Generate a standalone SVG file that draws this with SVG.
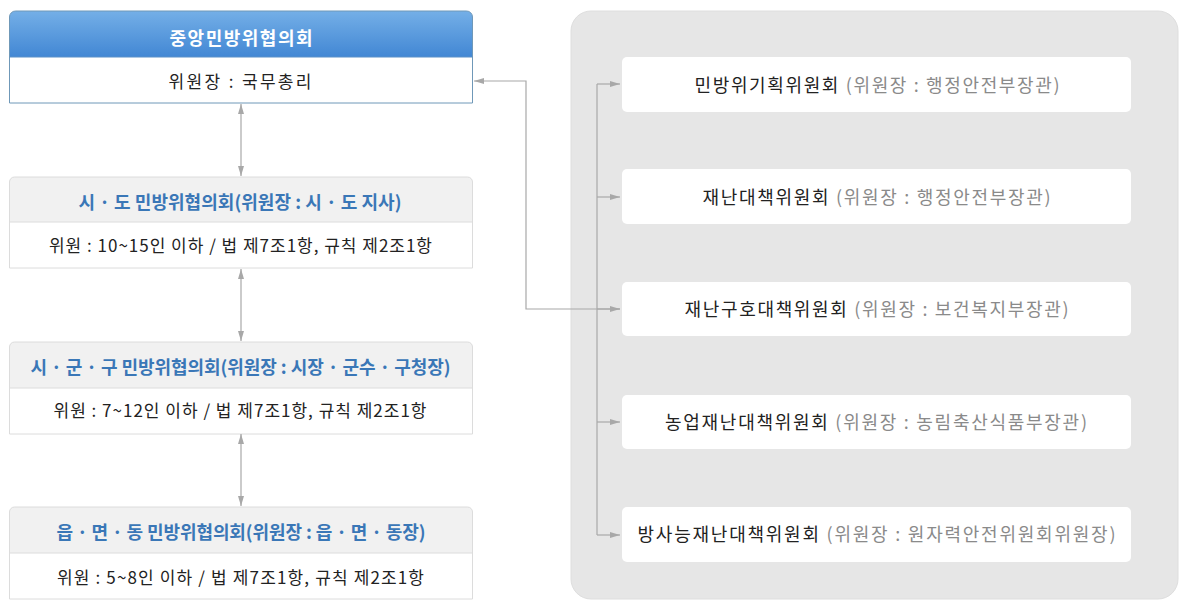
<svg xmlns="http://www.w3.org/2000/svg" width="1187" height="605" viewBox="0 0 1187 605">
<defs>
<linearGradient id="hdr" x1="0" y1="0" x2="0" y2="1">
<stop offset="0" stop-color="#74afe7"/>
<stop offset="1" stop-color="#4287d4"/>
</linearGradient>
<marker id="ah" viewBox="0 0 10 6" refX="10" refY="3" markerWidth="10" markerHeight="6" markerUnits="userSpaceOnUse" orient="auto-start-reverse">
<path d="M0,0 L10,3 L0,6 Z" fill="#a8a8a8"/>
</marker>
<style>
text{font-family:"Malgun Gothic","Noto Sans CJK KR",sans-serif;text-anchor:middle}
.t{font-size:18px;font-weight:bold;fill:#3a77b7}
.b{font-size:17px;fill:#222}
.r{font-size:18px;fill:#222}
.g{fill:#8a8a8a}
.hd{fill:#f1f1f1}
.wb{fill:#fff}
.ln{fill:none;stroke:#a8a8a8;stroke-width:1.2}
</style>
</defs>
<rect x="571" y="11" width="607" height="588" rx="20" fill="#e6e6e6" stroke="#dedede"/>

<g id="n-central">
<path d="M9.5,57 V17 a6,6 0 0 1 6,-6 H466.5 a6,6 0 0 1 6,6 V57 Z" fill="url(#hdr)"/>
<rect x="9.5" y="57" width="463" height="46" fill="#fff"/>
<path d="M9.5,57 V17 a6,6 0 0 1 6,-6 H466.5 a6,6 0 0 1 6,6 V103 H9.5 Z" fill="none" stroke="#6f98b8" stroke-width="1"/>
<line x1="9.5" y1="57" x2="472.5" y2="57" stroke="#5a90c8"/>
<text x="241" y="44.5" textLength="143" lengthAdjust="spacing" style="font-size:18px;font-weight:bold;fill:#fff">중앙민방위협의회</text>
<text x="240" y="88" class="b" textLength="143" lengthAdjust="spacing">위원장 : 국무총리</text>
</g>

<g id="n-sido">
<path d="M9.5,222 V182 a5,5 0 0 1 5,-5 H467.5 a5,5 0 0 1 5,5 V222 Z" class="hd"/>
<path d="M9.5,222 V182 a5,5 0 0 1 5,-5 H467.5 a5,5 0 0 1 5,5 V268 H9.5 Z" fill="none" stroke="#dcdcdc"/>
<line x1="9.5" y1="222" x2="472.5" y2="222" stroke="#dcdcdc"/>
<text x="240" y="208.5" class="t" textLength="323" lengthAdjust="spacing">시 · 도 민방위협의회(위원장 : 시 · 도 지사)</text>
<text x="240.5" y="252" class="b" textLength="383" lengthAdjust="spacing">위원 : 10~15인 이하 / 법 제7조1항, 규칙 제2조1항</text>
</g>

<g id="n-sigungu">
<path d="M9.5,388 V347 a5,5 0 0 1 5,-5 H467.5 a5,5 0 0 1 5,5 V388 Z" class="hd"/>
<path d="M9.5,388 V347 a5,5 0 0 1 5,-5 H467.5 a5,5 0 0 1 5,5 V434 H9.5 Z" fill="none" stroke="#dcdcdc"/>
<line x1="9.5" y1="388" x2="472.5" y2="388" stroke="#dcdcdc"/>
<text x="240.5" y="373.5" class="t" textLength="420" lengthAdjust="spacing">시 · 군 · 구 민방위협의회(위원장 : 시장 · 군수 · 구청장)</text>
<text x="240" y="417" class="b" textLength="373" lengthAdjust="spacing">위원 : 7~12인 이하 / 법 제7조1항, 규칙 제2조1항</text>
</g>

<g id="n-eupmyeon">
<path d="M9.5,553 V512 a5,5 0 0 1 5,-5 H467.5 a5,5 0 0 1 5,5 V553 Z" class="hd"/>
<path d="M9.5,553 V512 a5,5 0 0 1 5,-5 H467.5 a5,5 0 0 1 5,5 V599 H9.5 Z" fill="none" stroke="#dcdcdc"/>
<line x1="9.5" y1="553" x2="472.5" y2="553" stroke="#dcdcdc"/>
<text x="241" y="538.5" class="t" textLength="369" lengthAdjust="spacing">읍 · 면 · 동 민방위협의회(위원장 : 읍 · 면 · 동장)</text>
<text x="240.5" y="584" class="b" textLength="367" lengthAdjust="spacing">위원 : 5~8인 이하 / 법 제7조1항, 규칙 제2조1항</text>
</g>

<g id="n-r1">
<rect x="622" y="57" width="509" height="55" rx="5" class="wb"/>
<text x="877" y="91.5" class="r" textLength="365" lengthAdjust="spacing">민방위기획위원회 <tspan class="g">(위원장 : 행정안전부장관)</tspan></text>
</g>
<g id="n-r2">
<rect x="622" y="169" width="509" height="55" rx="5" class="wb"/>
<text x="876.5" y="203.5" class="r" textLength="348" lengthAdjust="spacing">재난대책위원회 <tspan class="g">(위원장 : 행정안전부장관)</tspan></text>
</g>
<g id="n-r3">
<rect x="622" y="282" width="509" height="54" rx="5" class="wb"/>
<text x="876.5" y="315.5" class="r" textLength="384" lengthAdjust="spacing">재난구호대책위원회 <tspan class="g">(위원장 : 보건복지부장관)</tspan></text>
</g>
<g id="n-r4">
<rect x="622" y="395" width="509" height="54" rx="5" class="wb"/>
<text x="876" y="428.5" class="r" textLength="422" lengthAdjust="spacing">농업재난대책위원회 <tspan class="g">(위원장 : 농림축산식품부장관)</tspan></text>
</g>
<g id="n-r5">
<rect x="622" y="507" width="509" height="55" rx="5" class="wb"/>
<text x="876.5" y="540.5" class="r" textLength="478" lengthAdjust="spacing">방사능재난대책위원회 <tspan class="g">(위원장 : 원자력안전위원회위원장)</tspan></text>
</g>

<g id="connectors">
<line x1="241" y1="104" x2="241" y2="176" class="ln" marker-start="url(#ah)" marker-end="url(#ah)"/>
<line x1="241" y1="269" x2="241" y2="341" class="ln" marker-start="url(#ah)" marker-end="url(#ah)"/>
<line x1="241" y1="434" x2="241" y2="506" class="ln" marker-start="url(#ah)" marker-end="url(#ah)"/>
<polyline points="620,309 526,309 526,81 474,81" class="ln" marker-end="url(#ah)"/>
<line x1="597" y1="84" x2="597" y2="535" class="ln"/>
<line x1="597" y1="84" x2="620" y2="84" class="ln" marker-end="url(#ah)"/>
<line x1="597" y1="197" x2="620" y2="197" class="ln" marker-end="url(#ah)"/>
<line x1="597" y1="309" x2="620" y2="309" class="ln" marker-end="url(#ah)"/>
<line x1="597" y1="422" x2="620" y2="422" class="ln" marker-end="url(#ah)"/>
<line x1="597" y1="535" x2="620" y2="535" class="ln" marker-end="url(#ah)"/>
</g>
</svg>
